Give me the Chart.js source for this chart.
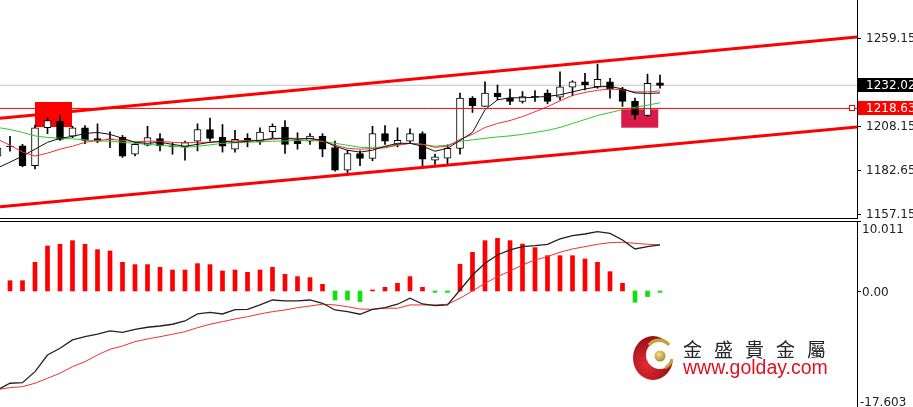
<!DOCTYPE html>
<html>
<head>
<meta charset="utf-8">
<script src="https://cdn.jsdelivr.net/npm/chart.js@4.4.0/dist/chart.umd.min.js"></script>
<style>
html, body { margin: 0; padding: 0; background: #fff; overflow: hidden; width: 913px; height: 407px; }
#wrap { position: relative; width: 913px; height: 407px; overflow: hidden; }
#priceChart { position: absolute; left: 0; top: 0; }
#macdChart { position: absolute; left: 0; top: 220px; }
#logo { position: absolute; left: 632px; top: 335px; }
.brand { position: absolute; left: 683px; white-space: nowrap; }
#brandName { top: 338px; font-family: "Noto Sans CJK TC"; font-size: 19px; line-height: 22px; letter-spacing: 12px; color: #262626; }
#brandUrl { top: 356px; font-family: "Liberation Sans"; font-size: 19.5px; line-height: 22px; color: #e01020; }
</style>
</head>
<body>
<div id="wrap">
  <canvas id="priceChart" width="913" height="222"></canvas>
  <canvas id="macdChart" width="913" height="194"></canvas>
  <svg id="logo" width="44" height="46" viewBox="0 0 44 46">
    <defs>
      <radialGradient id="redg" cx="0.35" cy="0.65" r="0.75">
        <stop offset="0" stop-color="#e42a30"/>
        <stop offset="1" stop-color="#8a0b12"/>
      </radialGradient>
      <radialGradient id="goldg" cx="0.4" cy="0.35" r="0.7">
        <stop offset="0" stop-color="#f4e39a"/>
        <stop offset="1" stop-color="#a8861e"/>
      </radialGradient>
    </defs>
    <ellipse cx="21" cy="23" rx="20" ry="22" fill="url(#redg)"/>
    <circle cx="28" cy="20" r="14" fill="#fff"/>
    <path d="M17 10 A13 13 0 0 1 37 10" stroke="#c4a23c" stroke-width="3.5" fill="none"/>
    <path d="M40 24 A13 13 0 0 1 33 33" stroke="#c4a23c" stroke-width="3" fill="none"/>
    <circle cx="28" cy="21" r="5.5" fill="url(#goldg)"/>
  </svg>
  <div class="brand" id="brandName">金盛貴金屬</div>
  <div class="brand" id="brandUrl">www.golday.com</div>
</div>
<script>
// bar -1 is the half-cut candle on the left edge
const firstBar = -1;

const opens = [1191.0, 1196.8, 1196.9, 1185.4, 1207.4, 1211.2, 1202.6, 1207.4, 1201.1, 1201.0,
  1201.8, 1192.1, 1197.4, 1201.1, 1196.9, 1196.3, 1199.7, 1206.4, 1201.8, 1195.0,
  1201.3, 1199.2, 1205.1, 1207.8, 1200.1, 1199.7, 1202.6, 1195.9, 1182.9, 1192.5,
  1189.6, 1204.0, 1197.8, 1199.7, 1204.0, 1188.7, 1189.8, 1195.4, 1224.6, 1219.8,
  1227.5, 1224.6, 1222.7, 1225.6, 1227.5, 1225.2, 1230.9, 1234.1, 1231.2, 1234.1,
  1229.8, 1222.7, 1214.5, 1233.4];
const highs = [1197.3, 1202.4, 1197.8, 1208.9, 1213.1, 1214.6, 1208.3, 1208.7, 1209.7, 1205.0,
  1203.0, 1198.8, 1208.3, 1204.0, 1198.8, 1199.7, 1209.7, 1213.1, 1209.3, 1205.9,
  1204.0, 1207.4, 1209.7, 1211.6, 1204.5, 1204.0, 1204.0, 1199.7, 1194.4, 1194.0,
  1208.3, 1208.7, 1207.4, 1206.8, 1205.1, 1192.1, 1197.5, 1227.5, 1225.5, 1234.1,
  1232.2, 1229.8, 1228.4, 1229.0, 1229.4, 1239.8, 1234.7, 1238.9, 1244.3, 1236.1,
  1230.9, 1224.6, 1238.5, 1238.0];
const lows = [1190.4, 1193.8, 1184.8, 1183.5, 1204.0, 1200.1, 1201.7, 1198.2, 1198.8, 1195.9,
  1190.2, 1191.1, 1196.9, 1194.0, 1192.1, 1188.7, 1194.0, 1199.7, 1193.3, 1193.3,
  1196.4, 1197.8, 1201.7, 1192.5, 1195.0, 1197.8, 1190.6, 1182.2, 1181.0, 1185.4,
  1188.3, 1197.8, 1196.3, 1198.2, 1184.1, 1186.1, 1185.4, 1192.1, 1216.3, 1219.8,
  1223.6, 1220.8, 1221.7, 1222.7, 1221.3, 1223.6, 1225.9, 1229.4, 1230.3, 1224.6,
  1219.8, 1212.2, 1214.1, 1230.3];
const closes = [1195.5, 1196.4, 1185.4, 1207.4, 1211.6, 1200.7, 1207.4, 1200.1, 1199.7, 1200.4,
  1191.0, 1197.8, 1201.7, 1196.9, 1196.3, 1198.8, 1206.4, 1201.3, 1196.7, 1200.7,
  1199.6, 1204.9, 1208.3, 1197.8, 1198.2, 1202.6, 1195.0, 1182.9, 1192.5, 1189.6,
  1204.0, 1199.7, 1200.1, 1204.0, 1189.2, 1190.6, 1195.5, 1224.6, 1220.2, 1227.5,
  1225.5, 1222.7, 1225.5, 1225.2, 1222.7, 1231.2, 1234.1, 1232.2, 1235.5, 1229.8,
  1222.7, 1215.0, 1233.2, 1232.02];

// moving averages (black fast, red middle, green slow)
const maFast = [1184.1, 1187.5, 1191.0, 1195.0, 1199.0, 1201.3, 1202.4, 1204.1, 1204.7, 1203.6,
  1201.3, 1199.0, 1198.4, 1199.0, 1197.8, 1196.7, 1197.8, 1199.0, 1199.6, 1199.0,
  1199.6, 1200.1, 1201.3, 1201.3, 1200.7, 1201.3, 1200.1, 1196.7, 1194.4, 1193.3,
  1194.4, 1196.7, 1198.4, 1198.4, 1196.7, 1193.8, 1195.5, 1200.1, 1204.7, 1217.9,
  1223.6, 1224.8, 1224.8, 1225.1, 1225.6, 1226.5, 1228.2, 1229.9, 1231.1, 1231.4,
  1229.9, 1227.6, 1227.3, 1227.6];
const maMid = [1200.7, 1197.3, 1193.3, 1191.0, 1192.7, 1195.0, 1196.7, 1199.0, 1200.1, 1200.7,
  1200.1, 1199.3, 1199.6, 1199.6, 1199.0, 1198.7, 1199.0, 1199.0, 1199.6, 1199.8,
  1200.1, 1200.1, 1200.7, 1201.3, 1201.3, 1201.0, 1199.6, 1197.3, 1195.5, 1195.0,
  1195.3, 1195.8, 1197.3, 1198.4, 1197.8, 1196.1, 1196.7, 1200.7, 1203.6, 1207.6,
  1209.9, 1211.6, 1213.9, 1216.7, 1219.6, 1223.0, 1226.2, 1227.9, 1229.1, 1229.9,
  1229.4, 1228.2, 1228.2, 1228.8];
const maSlow = [1207.6, 1206.4, 1204.7, 1202.7, 1201.8, 1201.3, 1201.0, 1200.4, 1199.8, 1199.6,
  1199.0, 1198.4, 1197.8, 1197.3, 1196.7, 1196.1, 1196.7, 1197.5, 1198.4, 1198.7,
  1199.0, 1199.3, 1199.6, 1199.8, 1200.1, 1200.1, 1199.6, 1198.4, 1197.3, 1196.1,
  1195.8, 1196.4, 1197.3, 1198.4, 1197.8, 1196.7, 1197.3, 1199.6, 1200.4, 1201.3,
  1202.1, 1202.7, 1203.6, 1204.7, 1205.9, 1207.6, 1209.9, 1212.2, 1214.5, 1216.2,
  1217.9, 1219.3, 1220.5, 1221.9];

// MACD panel
const macdHist = [-0.2, 1.47, 1.47, 4.1, 6.44, 6.68, 7.2, 6.68, 5.91, 5.72,
  4.1, 3.77, 3.77, 3.39, 3.0, 3.0, 3.91, 3.77, 2.86, 3.0,
  2.67, 3.0, 3.39, 2.38, 2.05, 1.91, 0.95, -1.29, -1.29, -1.53,
  0.15, 0.53, 1.1, 2.05, 0.53, -0.2, -0.2, 3.82, 5.53, 7.2,
  7.53, 7.2, 6.72, 6.2, 5.05, 5.05, 5.05, 4.58, 4.1, 2.76,
  1.1, -1.62, -0.8, -0.2];
const macdLine = [-14.16, -13.2, -13.12, -11.54, -9.16, -8.2, -7.01, -6.54, -6.19, -5.72,
  -5.91, -5.48, -5.19, -5.01, -4.76, -4.29, -3.29, -3.05, -3.29, -2.68,
  -2.62, -2.0, -1.29, -1.43, -1.43, -1.29, -1.76, -2.72, -2.96, -3.33,
  -2.62, -2.39, -1.9, -1.04, -1.86, -2.1, -2.0, 0.14, 2.29, 3.96,
  5.15, 5.87, 6.34, 6.48, 6.68, 7.44, 7.91, 8.15, 8.48, 8.25,
  7.3, 6.01, 6.34, 6.58];
const signalLine = [-14.09, -13.83, -13.69, -13.2, -12.49, -11.77, -10.83, -10.11, -9.16, -8.34,
  -7.87, -7.25, -6.87, -6.54, -6.19, -5.82, -5.25, -4.76, -4.39, -4.01,
  -3.68, -3.29, -2.96, -2.72, -2.39, -2.15, -1.9, -2.0, -2.25, -2.58,
  -2.62, -2.47, -2.47, -2.0, -2.0, -2.0, -1.9, -1.04, 0.0, 1.1,
  2.05, 2.86, 3.72, 4.43, 4.91, 5.54, 6.01, 6.34, 6.68, 6.91,
  6.97, 6.82, 6.68, 6.58];

// axis labels
const priceTicks = [1259.15, 1208.15, 1182.65, 1157.15];
const macdTicks = [10.011, 0, -17.603];
const lastPrice = 1232.02;
const levelPrice = 1218.63;

// trend channel, drawn from left edge to right edge (bar index units)
const channelBars = [-0.8, 67.76];
const upperChannel = [1212.9, 1260.0];
const lowerChannel = [1161.7, 1207.9];

// highlight boxes: bar range and price range
const boxFrom = [2, 48.9];
const boxTo = [4.96, 51.86];
const boxTop = [1222.35, 1218.12];
const boxBottom = [1207.86, 1207.46];

const xMin = channelBars[0], xMax = channelBars[1];
const barIndex = opens.map((_, k) => firstBar + k);
const toPoints = arr => arr.map((v, k) => ({ x: barIndex[k], y: v }));
const flatLine = v => [{ x: xMin, y: v }, { x: xMax, y: v }];

Chart.defaults.font.family = '"DejaVu Sans", sans-serif';
Chart.defaults.font.size = 12;
Chart.defaults.color = '#222';

const fitAxis = scale => {
  scale.width = 56;
  scale.paddingTop = 0;
  scale.paddingBottom = 0;
};

const boxPlugin = {
  id: 'boxes',
  beforeDatasetsDraw(chart) {
    const { ctx, scales: { x, y } } = chart;
    const fills = ['#ff0000', '#d81b4a'];
    ctx.save();
    boxFrom.forEach((b, k) => {
      const x0 = x.getPixelForValue(b), x1 = x.getPixelForValue(boxTo[k]);
      const y0 = y.getPixelForValue(boxTop[k]), y1 = y.getPixelForValue(boxBottom[k]);
      ctx.fillStyle = fills[k];
      ctx.fillRect(x0, y0, x1 - x0, y1 - y0);
    });
    ctx.restore();
  }
};

const priceTags = {
  id: 'priceTags',
  afterDraw(chart) {
    const { ctx, chartArea, scales: { y } } = chart;
    const right = chartArea.right;
    ctx.save();
    ctx.strokeStyle = '#000';
    ctx.lineWidth = 1;
    ctx.beginPath();
    ctx.moveTo(0, chartArea.bottom + 0.5);
    ctx.lineTo(right + 1, chartArea.bottom + 0.5);
    ctx.stroke();

    const tags = [[lastPrice, '#000000'], [levelPrice, '#ff0000']];
    ctx.font = '12px "DejaVu Sans"';
    ctx.textBaseline = 'middle';
    tags.forEach(([p, c]) => {
      const py = Math.round(y.getPixelForValue(p));
      ctx.fillStyle = c;
      ctx.fillRect(right + 1, py - 7, chart.width - right, 14);
      ctx.fillStyle = '#fff';
      ctx.fillText(p.toFixed(2), right + 9, py + 1);
    });

    // end marker of the horizontal level
    const ly = Math.round(y.getPixelForValue(levelPrice));
    ctx.fillStyle = '#fff';
    ctx.strokeStyle = '#ff0000';
    ctx.fillRect(right - 8, ly - 3, 6, 6);
    ctx.strokeRect(right - 7.5, ly - 2.5, 5, 5);
    ctx.restore();
  }
};

new Chart(document.getElementById('priceChart'), {
  type: 'bar',
  data: {
    datasets: [
      {
        type: 'line', data: flatLine(lastPrice), borderColor: '#c4c4c4', borderWidth: 1,
        pointRadius: 0, order: 9
      },
      {
        type: 'bar', data: barIndex.map((x, k) => ({ x, y: [lows[k], highs[k]] })),
        backgroundColor: '#000', barThickness: 1, grouped: false, order: 8
      },
      {
        type: 'bar', data: barIndex.map((x, k) => ({ x, y: [opens[k], closes[k]] })),
        backgroundColor: opens.map((o, k) => closes[k] >= o ? '#ffffff' : '#000000'),
        borderColor: '#000', borderWidth: 1, borderSkipped: false,
        barThickness: 7, grouped: false, order: 7
      },
      { type: 'line', data: toPoints(maSlow), borderColor: '#2ec82e', borderWidth: 1, pointRadius: 0, order: 6 },
      { type: 'line', data: toPoints(maMid), borderColor: '#f03232', borderWidth: 1, pointRadius: 0, order: 5 },
      { type: 'line', data: toPoints(maFast), borderColor: '#111', borderWidth: 1, pointRadius: 0, order: 4 },
      { type: 'line', data: flatLine(levelPrice), borderColor: '#ff0000', borderWidth: 1, pointRadius: 0, order: 3 },
      {
        type: 'line', data: channelBars.map((x, k) => ({ x, y: upperChannel[k] })),
        borderColor: '#ff0000', borderWidth: 3, pointRadius: 0, order: 2
      },
      {
        type: 'line', data: channelBars.map((x, k) => ({ x, y: lowerChannel[k] })),
        borderColor: '#ff0000', borderWidth: 3, pointRadius: 0, order: 1
      }
    ]
  },
  options: {
    responsive: false,
    animation: false,
    layout: { padding: { top: 0, bottom: 4, left: 0, right: 0 } },
    plugins: { legend: { display: false }, tooltip: { enabled: false } },
    scales: {
      x: { type: 'linear', min: xMin, max: xMax, offset: false, display: false },
      y: {
        position: 'right', min: 1155.12, max: 1281.46,
        afterBuildTicks: scale => { scale.ticks = priceTicks.map(v => ({ value: v })); },
        afterFit: fitAxis,
        ticks: { padding: 5, callback: v => Number(v).toFixed(2), color: '#222' },
        grid: { drawOnChartArea: false, drawTicks: true, tickLength: 4, color: '#000' },
        border: { display: true, color: '#000', width: 1 }
      }
    }
  },
  plugins: [boxPlugin, priceTags]
});

const macdAxis = {
  id: 'macdAxis',
  afterDraw(chart) {
    const { ctx, chartArea, scales: { y } } = chart;
    ctx.save();
    ctx.strokeStyle = '#000';
    ctx.lineWidth = 1;
    ctx.beginPath();
    ctx.moveTo(0, chartArea.top + 0.5);
    ctx.lineTo(chartArea.right + 1, chartArea.top + 0.5);
    ctx.stroke();
    ctx.font = '12px "DejaVu Sans"';
    ctx.fillStyle = '#222';
    ctx.textBaseline = 'middle';
    macdTicks.forEach(v => {
      const py = Math.round(y.getPixelForValue(v));
      ctx.beginPath();
      ctx.moveTo(chartArea.right, py + 0.5);
      ctx.lineTo(chartArea.right + 4, py + 0.5);
      ctx.stroke();
      // keep the end labels inside the visible part of the panel
      const ty = Math.min(Math.max(py + 2, chartArea.top + 9), chart.height - 11);
      const tx = chartArea.right + (v < 0 ? 3 : 5);
      ctx.fillText(v === 0 ? '0.00' : v.toFixed(3), tx, ty);
    });
    ctx.restore();
  }
};

new Chart(document.getElementById('macdChart'), {
  type: 'bar',
  data: {
    datasets: [
      {
        type: 'bar', data: toPoints(macdHist),
        backgroundColor: macdHist.map(v => v >= 0 ? '#ff0000' : '#11e011'),
        barThickness: 4, grouped: false, order: 3
      },
      { type: 'line', data: toPoints(signalLine), borderColor: '#f03030', borderWidth: 1, pointRadius: 0, order: 2 },
      { type: 'line', data: toPoints(macdLine), borderColor: '#222', borderWidth: 1.3, pointRadius: 0, order: 1 }
    ]
  },
  options: {
    responsive: false,
    animation: false,
    layout: { padding: { top: 1, bottom: 0, left: 0, right: 0 } },
    plugins: { legend: { display: false }, tooltip: { enabled: false } },
    scales: {
      x: { type: 'linear', min: xMin, max: xMax, offset: false, display: false },
      y: {
        position: 'right', min: -17.603, max: 10.011,
        afterFit: fitAxis,
        ticks: { display: false },
        grid: { display: false },
        border: { display: true, color: '#000', width: 1 }
      }
    }
  },
  plugins: [macdAxis]
});
</script>
</body>
</html>
